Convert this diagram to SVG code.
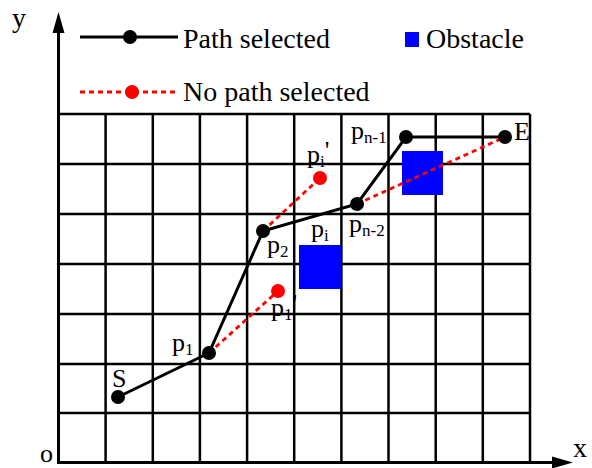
<svg xmlns="http://www.w3.org/2000/svg" width="592" height="468" viewBox="0 0 592 468">
<style>
text{font-family:"Liberation Serif","Times New Roman",serif;fill:#000}
.lg{font-size:28px}
.lb{font-size:26px}
.sub{font-size:17px}
.grid line{stroke:#000;stroke-width:2.5}
.blk{stroke:#000;stroke-width:3;fill:none}
.red{stroke:#f00;stroke-width:2.8;stroke-dasharray:5 4;fill:none}
.bd{fill:#000}
.rd{fill:#f00}
.obs{fill:#00f}
</style>
<rect width="592" height="468" fill="#fff"/>
<g id="grid" class="grid">
<line x1="58.5" y1="114" x2="530" y2="114"/>
<line x1="58.5" y1="164" x2="530" y2="164"/>
<line x1="58.5" y1="214" x2="530" y2="214"/>
<line x1="58.5" y1="264" x2="530" y2="264"/>
<line x1="58.5" y1="314" x2="530" y2="314"/>
<line x1="58.5" y1="364" x2="530" y2="364"/>
<line x1="58.5" y1="413" x2="530" y2="413"/>
<line x1="105.6" y1="114" x2="105.6" y2="463"/>
<line x1="152.8" y1="114" x2="152.8" y2="463"/>
<line x1="199.9" y1="114" x2="199.9" y2="463"/>
<line x1="247.1" y1="114" x2="247.1" y2="463"/>
<line x1="294.2" y1="114" x2="294.2" y2="463"/>
<line x1="341.4" y1="114" x2="341.4" y2="463"/>
<line x1="388.5" y1="114" x2="388.5" y2="463"/>
<line x1="435.7" y1="114" x2="435.7" y2="463"/>
<line x1="482.8" y1="114" x2="482.8" y2="463"/>
<line x1="530" y1="114" x2="530" y2="463"/>
</g>
<g id="axes">
<line x1="58.5" y1="464" x2="58.5" y2="30" stroke="#000" stroke-width="3"/>
<polygon points="58.5,12 52.5,33 64.5,33" fill="#000"/>
<line x1="57" y1="462.5" x2="554" y2="462.5" stroke="#000" stroke-width="3"/>
<polygon points="573,462.5 552,456.5 552,468.5" fill="#000"/>
<text class="lg" x="12" y="27">y</text>
<text class="lg" x="573" y="457">x</text>
<text class="lb" x="40" y="462">o</text>
</g>
<g id="obstacles">
<rect id="obstacle-1" class="obs" x="299" y="245" width="42" height="44"/>
<rect id="obstacle-2" class="obs" x="402" y="151" width="41" height="44"/>
</g>
<g id="connectors">
<polyline class="blk" points="118,397 209,353 263,231 357,204 406,137 505,137"/>
<line class="red" x1="209" y1="353" x2="278" y2="291"/>
<line class="red" x1="263" y1="231" x2="320" y2="178"/>
<line class="red" x1="357" y1="204" x2="505" y2="137"/>
</g>
<g id="node-S"><circle class="bd" cx="118" cy="397" r="7"/><text class="lb" x="112" y="387">S</text></g>
<g id="node-p1"><circle class="bd" cx="209" cy="353" r="7"/><text class="lb" x="172" y="351">p<tspan class="sub" dy="4">1</tspan></text></g>
<g id="node-p2"><circle class="bd" cx="263" cy="231" r="7"/><text class="lb" x="267" y="253">p<tspan class="sub" dy="4">2</tspan></text></g>
<g id="node-pn-2"><circle class="bd" cx="357" cy="204" r="7"/><text class="lb" x="349" y="232">p<tspan class="sub" dy="4">n-2</tspan></text></g>
<g id="node-pn-1"><circle class="bd" cx="406" cy="137" r="7"/><text class="lb" x="351" y="139">p<tspan class="sub" dy="4">n-1</tspan></text></g>
<g id="node-E"><circle class="bd" cx="505" cy="137" r="7"/><text class="lb" x="514" y="140">E</text></g>
<g id="node-p1prime"><circle class="rd" cx="278" cy="291" r="7"/><text class="lb" x="271" y="316">p<tspan class="sub" dy="4">1</tspan><tspan dy="-8">'</tspan></text></g>
<g id="node-piprime"><circle class="rd" cx="320" cy="178" r="7"/><text class="lb" x="307" y="163">p<tspan class="sub" dy="4">i</tspan><tspan dy="-8">'</tspan></text></g>
<g id="label-pi"><text class="lb" x="311" y="237">p<tspan class="sub" dy="4">i</tspan></text></g>
<g id="legend">
<line x1="80" y1="37" x2="178" y2="37" stroke="#000" stroke-width="3"/>
<circle class="bd" cx="130" cy="37" r="7"/>
<text class="lg" x="183" y="48">Path selected</text>
<line class="red" x1="80" y1="92" x2="178" y2="92"/>
<circle class="rd" cx="132" cy="92" r="7"/>
<text class="lg" x="183" y="101">No path selected</text>
<rect class="obs" x="405" y="32" width="14" height="15"/>
<text class="lg" x="426" y="48">Obstacle</text>
</g>
</svg>
